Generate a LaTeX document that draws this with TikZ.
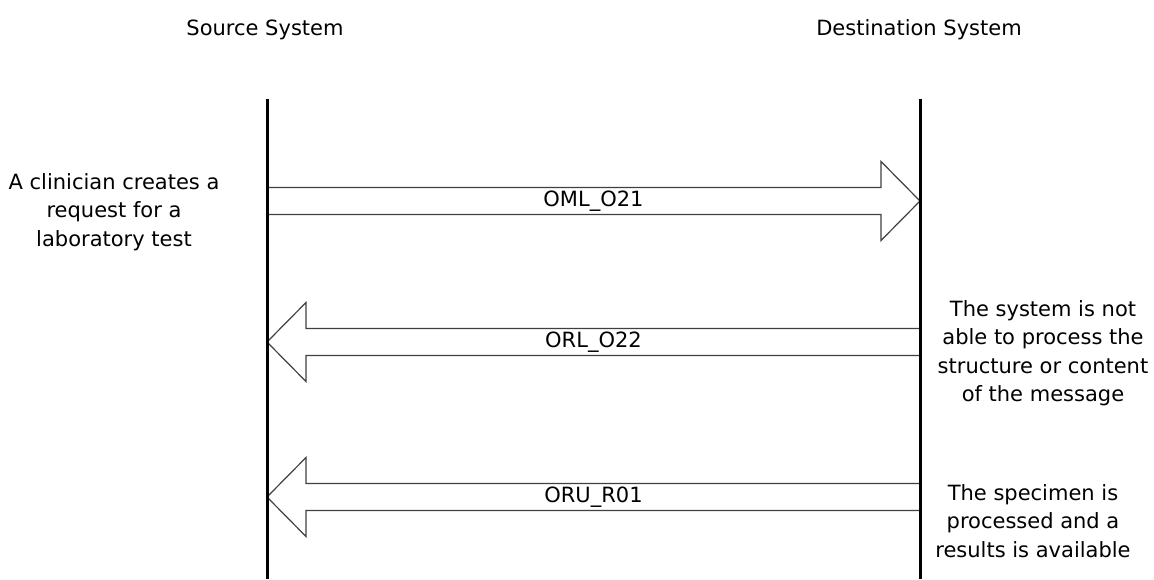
\documentclass[tikz,border=0pt]{standalone}
\usepackage{fontspec}
\setmainfont{DejaVu Sans}
\usetikzlibrary{calc,positioning}
\tikzset{
    lifeline/.style={
           line width=3pt,
           draw=black,
           },
    sysname/.style={
           inner sep=0pt,
           anchor=base,
           font=\fontsize{21}{28.5}\selectfont,
           },
    note/.style={
           align=center,
           inner sep=0pt,
           font=\fontsize{21}{28.5}\selectfont,
           },
    msgname/.style={
           inner sep=0pt,
           font=\fontsize{21}{28.5}\selectfont,
           },
    msg/.style={
           draw=black!75, line width=1.2pt, line join=miter,
           to path={let \p1=(\tikztostart), \p2=(\tikztotarget),
                        \n1={sign(\x2-\x1)} in
              (\x1,\y1+13.5pt) -- (\x2-\n1*39pt,\y1+13.5pt)
              -- (\x2-\n1*39pt,\y1+39.5pt) -- (\x2,\y2)
              -- (\x2-\n1*39pt,\y1-39.5pt) -- (\x2-\n1*39pt,\y1-13.5pt)
              -- (\x1,\y1-13.5pt)},
           },
}

\begin{document}
\begin{tikzpicture}[x=1pt,y=1pt]
  \useasboundingbox (0,0) rectangle (1154,-579);

  % lifelines
  \coordinate (srcTop) at (267,-99);
  \coordinate (srcBot) at (267,-579);
  \coordinate (dstTop) at (920,-99);
  \coordinate (dstBot) at (920,-579);

  \node[sysname] (src) at (265,-35) {Source System};
  \node[sysname] (dst) at (919,-35) {Destination System};

  % message points
  \coordinate (s1) at (267,-201);
  \coordinate (d1) at (920,-201);
  \coordinate (s2) at (267,-342);
  \coordinate (d2) at (920,-342);
  \coordinate (s3) at (267,-497);
  \coordinate (d3) at (920,-497);

  \draw[msg] (s1) to (d1);
  \draw[msg] (d2) to (s2);
  \draw[msg] (d3) to (s3);

  \node[msgname] (m1) at ($(s1)!0.5!(d1)$) {OML\_O21};
  \node[msgname] (m2) at ($(s2)!0.5!(d2)$) {ORL\_O22};
  \node[msgname] (m3) at ($(s3)!0.5!(d3)$) {ORU\_R01};

  \draw[lifeline] (srcTop) -- (srcBot);
  \draw[lifeline] (dstTop) -- (dstBot);

  \node[note] (request) at (114,-212) {A clinician creates a\\request for a\\laboratory test};
  \node[note] (reject) at (1043,-353) {The system is not\\able to process the\\structure or content\\of the message};
  \node[note] (result) at (1033,-521) {The specimen is\\processed and a\\results is available};

\end{tikzpicture}
\end{document}
